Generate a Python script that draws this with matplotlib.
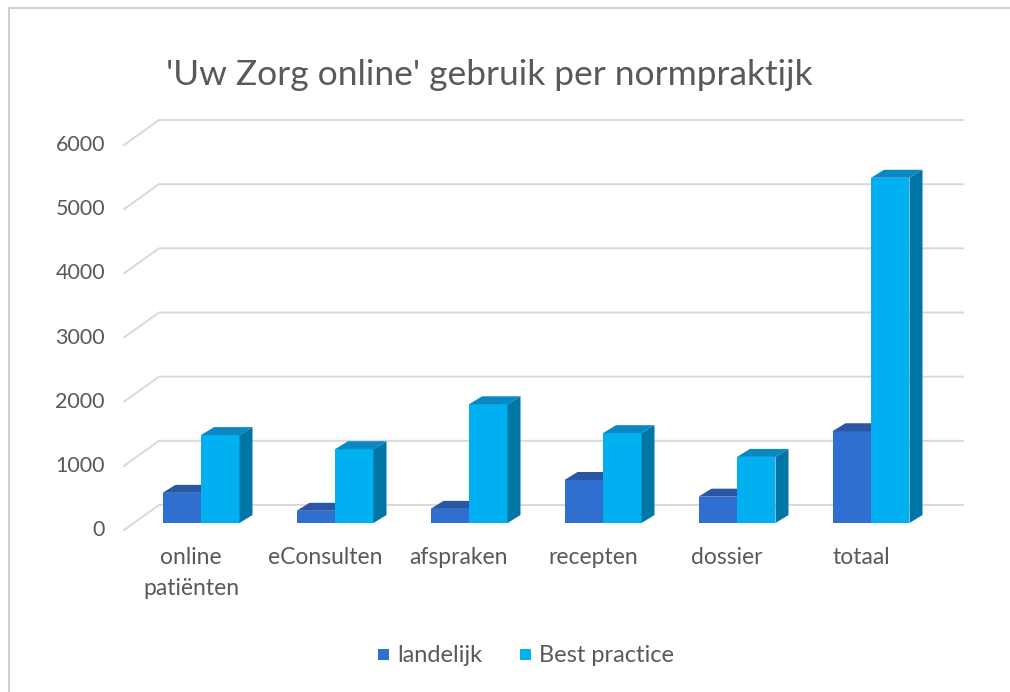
import matplotlib
matplotlib.use('Agg')
import matplotlib.pyplot as plt
from matplotlib.patches import Polygon, Rectangle

# ── Data ──────────────────────────────────────────────────────────────
categories = ['online\npatiënten', 'eConsulten', 'afspraken', 'recepten', 'dossier', 'totaal']
landelijk = [470, 190, 220, 670, 410, 1430]
best_practice = [1370, 1150, 1850, 1400, 1030, 5380]
yticks = [0, 1000, 2000, 3000, 4000, 5000, 6000]

# ── Style ─────────────────────────────────────────────────────────────
TEXT = '#595959'
GRID = '#d9d9d9'
DARK = ('#2e6fcf', '#2a57a3', '#24509a')      # front, top, side
LIGHT = ('#00b0f0', '#0a88c4', '#0076a6')
FONT = 'Lato'

W, H = 1010, 692
fig = plt.figure(figsize=(W / 100, H / 100), dpi=100)
fig.patch.set_facecolor('white')

# front plane of the plot, in pixels
x0, x1 = 124, 928
y0, y6 = 530, 145
ax = fig.add_axes([x0 / W, 1 - y0 / H, (x1 - x0) / W, (y0 - y6) / H])
ax.set_xlim(0, len(categories))
ax.set_ylim(0, 6000)
ax.axis('off')

sx = (x1 - x0) / len(categories)        # px per category
sy = (y0 - y6) / 6000                   # px per value unit

def px(dx, dy):
    return dx / sx, dy / sy

# back-wall gridlines with the diagonal on the left
bdx, bdy = px(35, 25)
for v in yticks:
    ax.plot([0, bdx, len(categories) + bdx], [v, v + bdy, v + bdy],
            color=GRID, lw=1.4, clip_on=False, zorder=1)
    ax.text(-19 / sx, v, str(v), ha='right', va='center', fontsize=15.5,
            color=TEXT, family=FONT)

# bars with fake depth
fdx, fdy = px(10, 7)
ddx, ddy = px(13, 8)
bw = 38.5 / sx

def bar3d(xl, val, cols, z):
    front, top, side = cols
    xl += fdx
    b = fdy
    t = val + fdy
    ax.add_patch(Rectangle((xl, b), bw, val, facecolor=front, edgecolor='none',
                           zorder=z, clip_on=False))
    ax.add_patch(Polygon([(xl, t), (xl + bw, t), (xl + bw + ddx, t + ddy), (xl + ddx, t + ddy)],
                         closed=True, facecolor=top, edgecolor='none', zorder=z, clip_on=False))
    ax.add_patch(Polygon([(xl + bw, b), (xl + bw + ddx, b + ddy), (xl + bw + ddx, t + ddy), (xl + bw, t)],
                         closed=True, facecolor=side, edgecolor='none', zorder=z, clip_on=False))

for i, cat in enumerate(categories):
    c = i + 0.5
    bar3d(c - bw, landelijk[i], DARK, 2 + i)
    bar3d(c, best_practice[i], LIGHT, 2.5 + i)
    ax.text(c, -17 / sy, cat, ha='center', va='top', fontsize=16.5, color=TEXT,
            family=FONT, linespacing=1.6)

# title
fig.text(489 / W, 1 - 75 / H, "'Uw Zorg online' gebruik per normpraktijk",
         ha='center', va='center', fontsize=25.5, color=TEXT, family=FONT)

# legend
ly = 1 - 655 / H
fig.patches.append(Rectangle((378 / W, ly - 5 / H), 11 / W, 11 / H, facecolor=DARK[0],
                             edgecolor='none', transform=fig.transFigure))
fig.text(397 / W, ly, 'landelijk', ha='left', va='center', fontsize=17,
         color=TEXT, family=FONT)
fig.patches.append(Rectangle((520 / W, ly - 5 / H), 11 / W, 11 / H, facecolor=LIGHT[0],
                             edgecolor='none', transform=fig.transFigure))
fig.text(539 / W, ly, 'Best practice', ha='left', va='center', fontsize=17,
         color=TEXT, family=FONT)

# chart border
fig.patches.append(Rectangle((9 / W, -0.1), 1.2, 1 - 8 / H + 0.1, facecolor='none',
                             edgecolor='#d0d0d0', lw=1.5, transform=fig.transFigure))

fig.savefig('out.png', dpi=100)
